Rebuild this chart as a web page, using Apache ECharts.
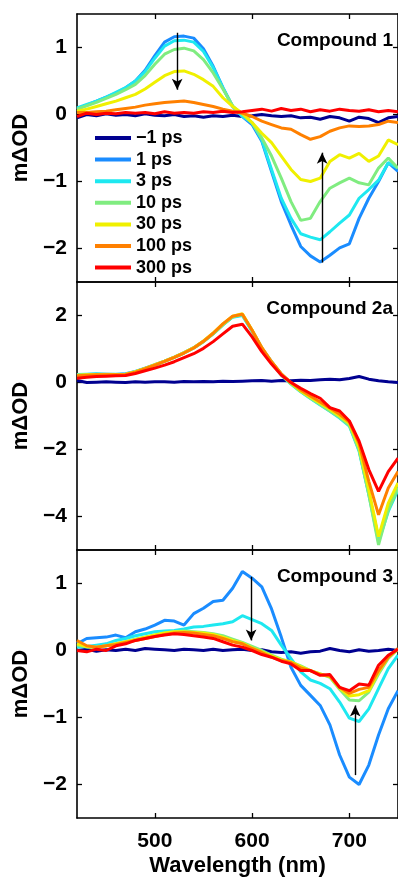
<!DOCTYPE html>
<html>
<head>
<meta charset="utf-8">
<script src="https://cdn.jsdelivr.net/npm/echarts@6/dist/echarts.min.js"></script>
<style>
html,body{margin:0;padding:0;background:#fff;}
#chart{width:398px;height:879px;}
</style>
</head>
<body>
<div id="chart"></div>
<script>
// Wavelength grid (nm)
const wavelength = [420,430,440,450,460,470,480,490,500,510,520,530,540,550,560,570,580,590,600,610,620,630,640,650,660,670,680,690,700,710,720,730,740,750];
const delays = ['\u22121 ps','1 ps','3 ps','10 ps','30 ps','100 ps','300 ps'];
const panelTitles = ['Compound 1','Compound 2a','Compound 3'];
const xTicks = [500,600,700];
const yTicks1 = [-2,-1,0,1];
const yTicks2 = [-4,-2,0,2];
const yTicks3 = [-2,-1,0,1];

// Compound 1 (mΔOD)
const c1_m1 = [-0.05,0.0,-0.02,0.01,-0.01,0.0,-0.02,0.01,-0.01,-0.02,0.0,-0.03,-0.02,-0.04,-0.02,-0.03,-0.01,-0.03,-0.02,0.0,-0.02,-0.03,-0.02,-0.05,-0.04,-0.07,-0.03,-0.05,-0.1,-0.04,-0.06,-0.12,-0.05,-0.03];
const c1_1   = [0.08,0.14,0.2,0.26,0.32,0.4,0.5,0.66,0.88,1.08,1.16,1.17,1.14,0.98,0.72,0.4,0.12,-0.03,-0.15,-0.4,-0.85,-1.3,-1.65,-1.97,-2.11,-2.2,-2.1,-1.99,-1.93,-1.55,-1.25,-1.0,-0.72,-0.85];
const c1_3   = [0.1,0.15,0.2,0.26,0.33,0.4,0.5,0.64,0.84,1.02,1.1,1.11,1.08,0.94,0.7,0.4,0.12,-0.03,-0.12,-0.38,-0.82,-1.25,-1.55,-1.78,-1.83,-1.87,-1.75,-1.62,-1.5,-1.25,-1.12,-0.98,-0.72,-0.8];
const c1_10  = [0.08,0.13,0.18,0.24,0.3,0.37,0.45,0.58,0.75,0.9,0.97,0.99,0.95,0.82,0.62,0.38,0.13,0.0,-0.13,-0.35,-0.62,-0.95,-1.3,-1.58,-1.55,-1.3,-1.1,-1.02,-0.95,-1.02,-1.05,-0.8,-0.65,-0.8];
const c1_30  = [0.05,0.08,0.12,0.16,0.2,0.25,0.3,0.38,0.48,0.58,0.64,0.65,0.6,0.52,0.42,0.25,0.12,0.02,-0.12,-0.28,-0.42,-0.62,-0.82,-0.97,-1.0,-0.95,-0.7,-0.6,-0.65,-0.58,-0.7,-0.62,-0.38,-0.45];
const c1_100 = [0.03,0.03,0.04,0.05,0.07,0.09,0.11,0.14,0.16,0.18,0.19,0.2,0.18,0.15,0.12,0.08,0.05,0.02,-0.03,-0.1,-0.15,-0.2,-0.22,-0.3,-0.37,-0.33,-0.25,-0.2,-0.17,-0.18,-0.17,-0.15,-0.1,-0.12];
const c1_300 = [-0.03,0.02,0.0,0.02,0.01,0.03,0.02,0.03,0.01,0.04,0.02,0.03,0.02,0.04,0.03,0.05,0.03,0.04,0.06,0.08,0.05,0.09,0.06,0.08,0.04,0.07,0.05,0.08,0.06,0.05,0.07,0.04,0.06,0.04];

// Compound 2a (mΔOD)
const c2_m1 = [0.06,0.0,0.01,0.02,0.01,0.0,0.02,0.01,0.02,0.02,0.01,0.03,0.02,0.03,0.02,0.04,0.03,0.04,0.05,0.06,0.04,0.06,0.05,0.07,0.06,0.08,0.1,0.08,0.12,0.18,0.1,0.05,0.02,0.0];
const c2_1   = [0.23,0.24,0.25,0.25,0.24,0.26,0.33,0.43,0.53,0.64,0.76,0.89,1.04,1.23,1.46,1.73,1.96,2.02,1.55,1.03,0.62,0.25,-0.02,-0.25,-0.45,-0.63,-0.82,-1.02,-1.25,-2.0,-3.3,-4.65,-3.75,-3.1];
const c2_3   = [0.24,0.25,0.26,0.24,0.25,0.25,0.32,0.42,0.52,0.63,0.75,0.88,1.03,1.22,1.45,1.72,1.95,2.0,1.52,1.0,0.6,0.22,-0.05,-0.28,-0.48,-0.67,-0.86,-1.06,-1.3,-2.05,-3.35,-4.75,-3.85,-3.2];
const c2_10  = [0.22,0.24,0.24,0.25,0.24,0.25,0.32,0.42,0.52,0.63,0.75,0.88,1.03,1.22,1.45,1.72,1.96,2.03,1.55,1.02,0.6,0.23,-0.04,-0.27,-0.47,-0.66,-0.85,-1.04,-1.28,-2.02,-3.35,-4.85,-3.8,-3.15];
const c2_30  = [0.22,0.23,0.24,0.24,0.24,0.25,0.32,0.42,0.53,0.64,0.76,0.89,1.04,1.24,1.48,1.75,1.98,2.05,1.57,1.04,0.62,0.25,-0.02,-0.25,-0.44,-0.62,-0.8,-1.0,-1.22,-1.92,-3.2,-4.6,-3.6,-3.0];
const c2_100 = [0.2,0.22,0.23,0.23,0.23,0.24,0.31,0.41,0.52,0.63,0.75,0.88,1.03,1.23,1.47,1.75,1.98,2.04,1.56,1.04,0.62,0.26,0.0,-0.22,-0.4,-0.58,-0.76,-0.95,-1.18,-1.82,-2.95,-3.95,-3.15,-2.66];
const c2_300 = [0.13,0.16,0.18,0.19,0.2,0.21,0.27,0.35,0.43,0.52,0.62,0.74,0.86,1.02,1.22,1.45,1.68,1.74,1.36,0.92,0.55,0.22,0.0,-0.17,-0.33,-0.47,-0.75,-0.85,-1.15,-1.75,-2.6,-3.25,-2.66,-2.26];

// Compound 3 (mΔOD)
const c3_m1 = [0.0,0.02,-0.01,0.01,0.0,0.02,0.0,0.03,0.02,0.01,0.0,0.02,0.01,0.0,0.02,0.0,0.01,0.02,0.0,0.01,-0.02,-0.03,-0.02,-0.04,-0.02,-0.01,0.03,0.0,-0.02,0.01,-0.01,0.0,0.02,0.0];
const c3_1   = [0.1,0.18,0.19,0.2,0.23,0.19,0.28,0.32,0.38,0.45,0.44,0.38,0.55,0.63,0.73,0.75,0.93,1.18,1.08,0.95,0.62,0.2,-0.25,-0.52,-0.67,-0.82,-1.11,-1.56,-1.89,-2.0,-1.71,-1.26,-0.87,-0.6];
const c3_3   = [0.05,0.06,0.08,0.1,0.15,0.18,0.22,0.25,0.28,0.29,0.3,0.32,0.35,0.36,0.38,0.4,0.43,0.52,0.46,0.4,0.3,0.08,-0.12,-0.32,-0.44,-0.49,-0.57,-0.77,-1.01,-1.06,-0.87,-0.57,-0.27,-0.07];
const c3_10  = [0.08,0.05,0.05,0.07,0.1,0.13,0.17,0.2,0.23,0.26,0.28,0.29,0.28,0.27,0.25,0.22,0.17,0.12,0.06,0.0,-0.07,-0.13,-0.17,-0.23,-0.3,-0.35,-0.4,-0.58,-0.74,-0.75,-0.62,-0.35,-0.12,0.02];
const c3_30  = [0.1,0.06,0.05,0.07,0.1,0.13,0.16,0.2,0.23,0.26,0.28,0.28,0.27,0.26,0.24,0.2,0.15,0.11,0.04,-0.02,-0.08,-0.14,-0.17,-0.24,-0.3,-0.35,-0.39,-0.56,-0.68,-0.66,-0.6,-0.32,-0.1,0.02];
const c3_100 = [0.15,0.07,0.05,0.07,0.09,0.12,0.15,0.18,0.21,0.24,0.26,0.27,0.26,0.24,0.22,0.18,0.13,0.1,0.03,-0.03,-0.1,-0.15,-0.18,-0.26,-0.3,-0.36,-0.38,-0.55,-0.64,-0.58,-0.55,-0.3,-0.1,0.03];
const c3_300 = [0.0,-0.02,0.02,0.0,0.07,0.1,0.15,0.18,0.21,0.23,0.25,0.24,0.22,0.2,0.18,0.13,0.08,0.05,0.0,-0.06,-0.1,-0.16,-0.2,-0.3,-0.3,-0.37,-0.36,-0.55,-0.6,-0.5,-0.52,-0.22,-0.07,0.02];

// Arrow annotations [wavelength, from, to]
const arrows1 = [[523,1.22,0.37],[672,-2.21,-0.57]];
const arrows3 = [[599,1.1,0.15],[706,-1.86,-0.82]];

const colors = ['#000090','#1a8cff','#1ee8f0','#80ec80','#f0f000','#ff8000','#ff0000'];
const panels = [
  {data:[c1_m1,c1_1,c1_3,c1_10,c1_30,c1_100,c1_300], min:-2.5, max:1.5, ticks:yTicks1, arrows:arrows1},
  {data:[c2_m1,c2_1,c2_3,c2_10,c2_30,c2_100,c2_300], min:-5, max:3, ticks:yTicks2, arrows:[]},
  {data:[c3_m1,c3_1,c3_3,c3_10,c3_30,c3_100,c3_300], min:-2.5, max:1.5, ticks:yTicks3, arrows:arrows3}
];

const FONT = '"Liberation Sans", Arial, Helvetica, sans-serif';
const tops = [14,282,550];
const grid = [], xAxis = [], yAxis = [], series = [], title = [];
const axisLine = {show:true, onZero:false, lineStyle:{color:'#000', width:1.6}};

panels.forEach((p, i) => {
  grid.push({left:77, top:tops[i], width:324, height:268});
  const isLast = i === panels.length - 1;
  xAxis.push({
    type:'value', gridIndex:i, min:420, max:750, position:'bottom',
    axisLine, splitLine:{show:false},
    axisTick:{show:true, inside:true, length:5, customValues:xTicks, lineStyle:{color:'#000', width:1.3}},
    axisLabel:{show:isLast, customValues:xTicks, margin:13, fontSize:21, fontWeight:'bold', fontFamily:FONT, color:'#000'},
    name: isLast ? 'Wavelength (nm)' : '', nameLocation:'middle', nameGap:37,
    nameTextStyle:{fontSize:22, fontWeight:'bold', fontFamily:FONT, color:'#000'}
  });
  xAxis.push({
    type:'value', gridIndex:i, min:420, max:750, position:'top',
    axisLine, splitLine:{show:false},
    axisTick:{show:true, inside:true, length:5, customValues:xTicks, lineStyle:{color:'#000', width:1.3}},
    axisLabel:{show:false}
  });
  yAxis.push({
    type:'value', gridIndex:i, min:p.min, max:p.max, position:'left',
    axisLine, splitLine:{show:false},
    axisTick:{show:true, inside:true, length:5, customValues:p.ticks, lineStyle:{color:'#000', width:1.3}},
    axisLabel:{customValues:p.ticks, margin:10, fontSize:21, fontWeight:'bold', fontFamily:FONT, color:'#000',
      formatter: v => (v < 0 ? '\u2212' + Math.abs(v) : String(v))},
    name:'m\u0394OD', nameLocation:'middle', nameGap:41,
    nameTextStyle:{fontSize:22, fontWeight:'bold', fontFamily:FONT, color:'#000'}
  });
  yAxis.push({
    type:'value', gridIndex:i, min:p.min, max:p.max, position:'right',
    axisLine, splitLine:{show:false},
    axisTick:{show:true, inside:true, length:5, customValues:p.ticks, lineStyle:{color:'#000', width:1.3}},
    axisLabel:{show:false}
  });
  p.data.forEach((vals, k) => {
    const s = {
      name: delays[k], type:'line', xAxisIndex:2*i, yAxisIndex:2*i,
      data: wavelength.map((w, j) => [w, vals[j]]),
      showSymbol:false, symbol:'none', smooth:false,
      lineStyle:{color:colors[k], width:3}, itemStyle:{color:colors[k]},
      animation:false, silent:true, clip:true
    };
    if (k === p.data.length - 1 && p.arrows.length) {
      s.markLine = {
        silent:true, animation:false, symbol:['none','arrow'], symbolSize:[8,11],
        lineStyle:{color:'#000', width:1.4, type:'solid'}, label:{show:false},
        data: p.arrows.map(a => [{coord:[a[0], a[1]]}, {coord:[a[0], a[2]]}])
      };
    }
    series.push(s);
  });
  title.push({
    text: panelTitles[i], right:5, top: tops[i] + 17, padding:0,
    textStyle:{fontSize:19, fontWeight:'bold', fontFamily:FONT, color:'#000'}
  });
});

const chart = echarts.init(document.getElementById('chart'), null, {renderer:'canvas'});
chart.setOption({
  animation:false,
  backgroundColor:'#fff',
  title,
  grid, xAxis, yAxis, series,
  legend:{
    data: delays, orient:'vertical', left:90, top:124,
    icon:'rect', itemWidth:36, itemHeight:4, itemGap:3.6,
    textStyle:{fontSize:18, fontWeight:'bold', fontFamily:FONT, color:'#000', lineHeight:18},
    selectedMode:false
  }
});
</script>
</body>
</html>
